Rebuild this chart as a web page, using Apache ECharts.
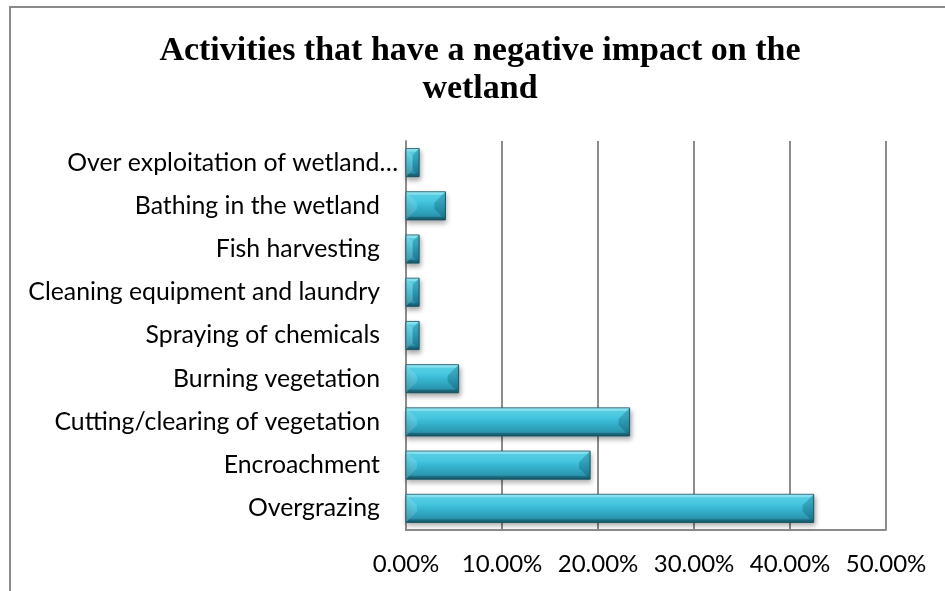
<!DOCTYPE html>
<html>
<head>
<meta charset="utf-8">
<title>Activities that have a negative impact on the wetland</title>
<script src="https://cdn.jsdelivr.net/npm/echarts@6/dist/echarts.min.js"></script>
<style>
  html, body { margin: 0; padding: 0; background: #ffffff; }
  #chart { width: 945px; height: 591px; }
</style>
</head>
<body>
<div id="chart"></div>
<script>
// Activities listed bottom-to-top, as they stack on the category axis
var activities = [
  'Overgrazing',
  'Encroachment',
  'Cutting/clearing of vegetation',
  'Burning vegetation',
  'Spraying of chemicals',
  'Cleaning equipment and laundry',
  'Fish harvesting',
  'Bathing in the wetland',
  'Over exploitation of wetland\u2026'
];

// Share of respondents naming each activity (%)
var shares = [42.47, 19.18, 23.29, 5.48, 1.37, 1.37, 1.37, 4.11, 1.37];

// Percentage axis ticks
var axisMin = 0;
var axisMax = 50;
var axisStep = 10;

var chart = echarts.init(document.getElementById('chart'), null, { renderer: 'canvas' });

var barFill = new echarts.graphic.LinearGradient(0, 0, 0, 1, [
  { offset: 0.00, color: '#7af0ff' },
  { offset: 0.15, color: '#58d8ef' },
  { offset: 0.50, color: '#37b7d2' },
  { offset: 0.82, color: '#2b98b1' },
  { offset: 1.00, color: '#1d6a7c' }
]);

var labelFont = 'Lato, "Open Sans", sans-serif';

// Bevelled bar: gradient body with angled facets at each end
function renderBar(params, api) {
  var cat = api.value(1);
  var p0 = api.coord([0, cat]);
  var p1 = api.coord([api.value(0), cat]);
  var h = api.size([0, 1])[1] * 0.65;
  var x0 = p0[0], x1 = p1[0];
  var y0 = p0[1] - h / 2, y1 = y0 + h;
  var b = Math.min(11, (x1 - x0) / 2, h / 2);
  var t = 3;
  return {
    type: 'group',
    children: [
      {
        type: 'rect',
        shape: { x: x0, y: y0, width: x1 - x0, height: h },
        style: {
          fill: barFill,
          stroke: '#1d5f6f',
          lineWidth: 1,
          shadowColor: 'rgba(0,0,0,0.35)',
          shadowBlur: 5,
          shadowOffsetX: 1,
          shadowOffsetY: 3
        }
      },
      {
        type: 'polygon',
        shape: { points: [[x0, y0], [x1, y0], [x1 - t, y0 + t], [x0 + t, y0 + t]] },
        style: { fill: 'rgba(255,255,255,0.22)' }
      },
      {
        type: 'polygon',
        shape: { points: [[x0, y1], [x1, y1], [x1 - t, y1 - t], [x0 + t, y1 - t]] },
        style: { fill: 'rgba(0,30,45,0.25)' }
      },
      {
        type: 'polygon',
        shape: { points: [[x0, y0], [x0 + b, y0 + b], [x0 + b, y1 - b], [x0, y1]] },
        style: { fill: 'rgba(255,255,255,0.14)' }
      },
      {
        type: 'polygon',
        shape: { points: [[x1, y0], [x1 - b, y0 + b], [x1 - b, y1 - b], [x1, y1]] },
        style: { fill: 'rgba(0,40,60,0.22)' }
      }
    ]
  };
}

chart.setOption({
  backgroundColor: '#ffffff',
  animation: false,
  title: {
    text: 'Activities that have a negative impact on the\nwetland',
    left: 475,
    top: 27,
    textAlign: 'center',
    textStyle: {
      fontFamily: '"Liberation Serif", "Times New Roman", serif',
      fontWeight: 'bold',
      fontSize: 34,
      lineHeight: 38,
      color: '#000000'
    }
  },
  graphic: [{
    type: 'rect',
    silent: true,
    shape: { x: 10, y: 7, width: 960, height: 620 },
    style: { fill: null, stroke: '#8a8a8a', lineWidth: 2 }
  }],
  grid: {
    left: 406,
    right: 59,
    top: 141,
    bottom: 61,
    containLabel: false
  },
  xAxis: {
    type: 'value',
    min: axisMin,
    max: axisMax,
    interval: axisStep,
    axisLine: { show: true, lineStyle: { color: '#8c8c8c', width: 2 } },
    axisTick: { show: false },
    splitLine: { show: true, lineStyle: { color: '#8c8c8c', width: 2 } },
    axisLabel: {
      margin: 22,
      fontFamily: labelFont,
      fontSize: 24,
      color: '#000000',
      formatter: function (v) { return v.toFixed(2) + '%'; }
    }
  },
  yAxis: {
    type: 'category',
    data: activities,
    axisLine: { show: true, lineStyle: { color: '#8c8c8c', width: 2 } },
    axisTick: { show: false },
    splitLine: { show: false },
    axisLabel: {
      margin: 8,
      fontFamily: labelFont,
      fontSize: 24.8,
      color: '#000000',
      formatter: function (v, i) {
        return i === activities.length - 1 ? v : '{pad|' + v + '}';
      },
      rich: {
        pad: {
          fontFamily: labelFont,
          fontSize: 24.8,
          color: '#000000',
          padding: [0, 18, 0, 0]
        }
      }
    }
  },
  series: [{
    type: 'custom',
    renderItem: renderBar,
    encode: { x: 0, y: 1 },
    data: shares.map(function (v, i) { return [v, i]; })
  }]
});
</script>
</body>
</html>
